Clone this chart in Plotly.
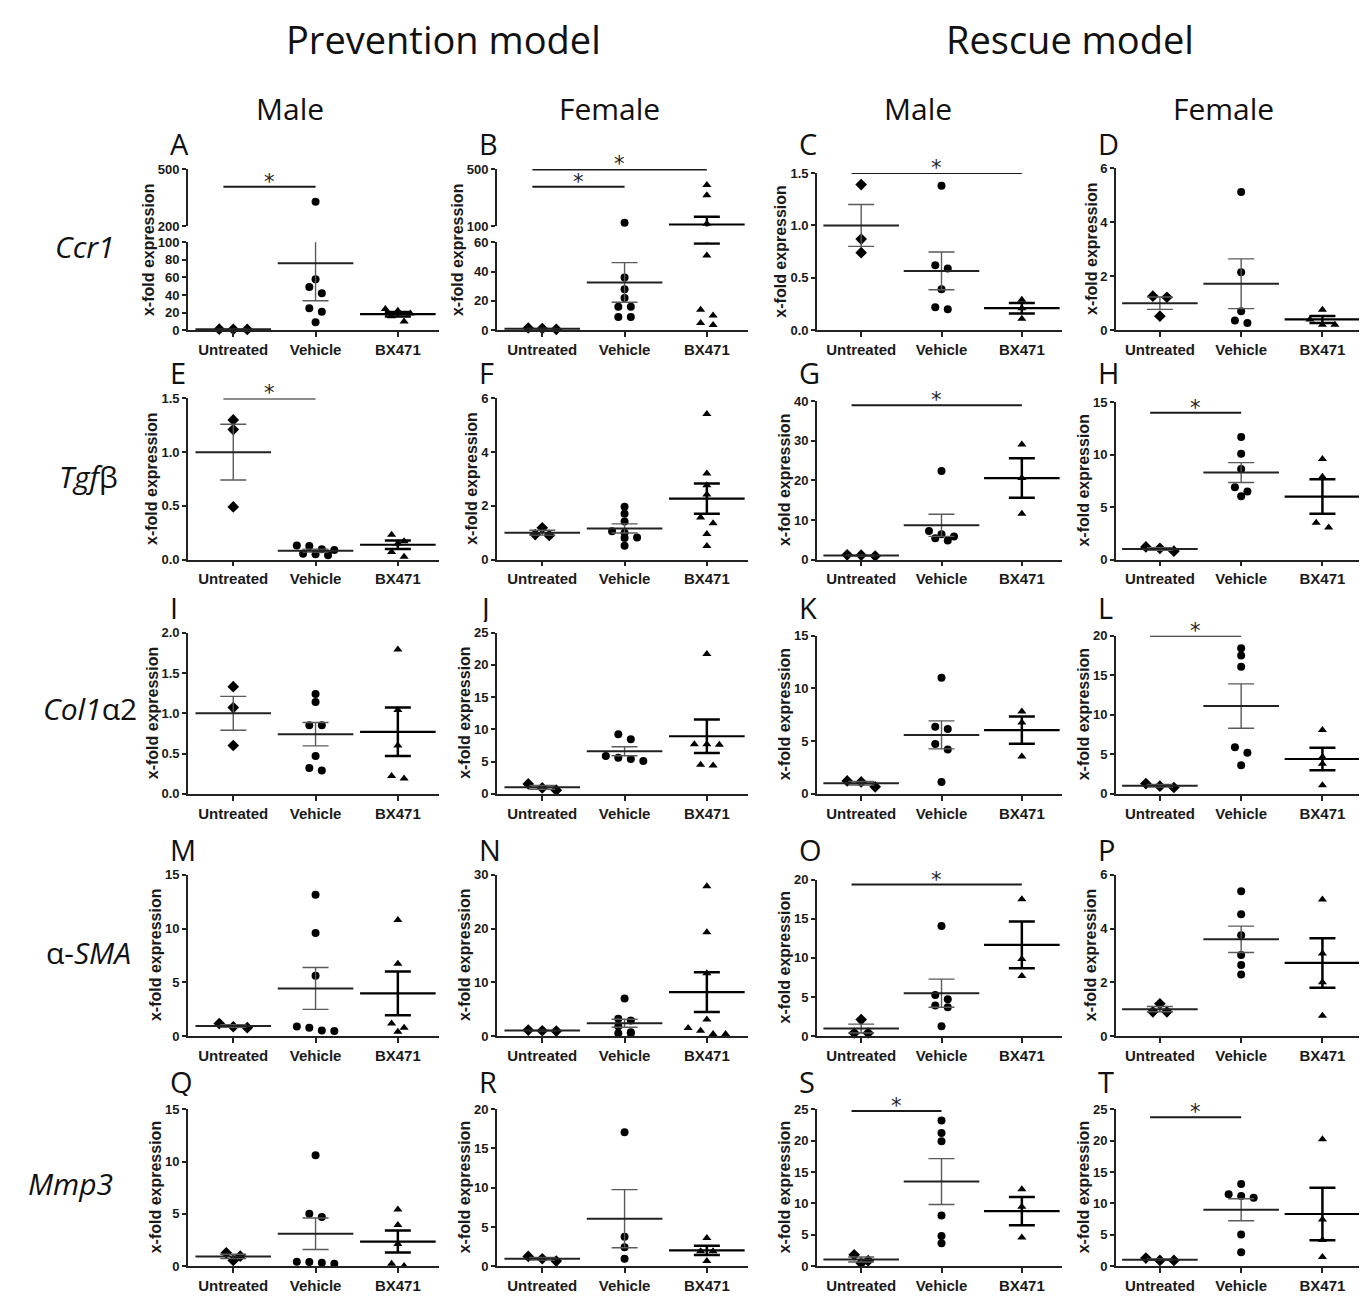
import plotly.graph_objects as go

W, H = 1360, 1300
CATEGORIES = ["Untreated", "Vehicle", "BX471"]
PANEL_KEYS = list("ABCDEFGHIJKLMNOPQRST")

# ---------------- values (x-fold expression) ----------------
# Row 1: Ccr1
A_untreated = [0.9, 1.2, 1.0]
A_vehicle = [329, 58, 49, 42, 25, 21, 9]
A_bx471 = [24, 22, 19, 16, 10]
A_mean = [1.0, 76.0, 18.2]
A_sem = [0.1, 42.5, 2.6]

B_untreated = [0.6, 1.5, 1.1]
B_vehicle = [125, 36, 28, 22, 16, 16, 9, 9]
B_bx471 = [390, 318, 118, 51, 14, 10, 5, 3.5]
B_mean = [1.0, 32.6, 113.7]
B_sem = [0.25, 13.5, 54.5]

C_untreated = [1.39, 0.87, 0.74]
C_vehicle = [1.38, 0.62, 0.59, 0.39, 0.22, 0.2]
C_bx471 = [0.29, 0.21, 0.11]
C_mean = [1.0, 0.566, 0.21]
C_sem = [0.2, 0.18, 0.05]

D_untreated = [1.26, 1.22, 0.52]
D_vehicle = [5.12, 2.15, 0.7, 0.36, 0.27]
D_bx471 = [0.76, 0.4, 0.2, 0.2]
D_mean = [1.0, 1.72, 0.4]
D_sem = [0.23, 0.92, 0.13]

# Row 2: Tgf-beta
E_untreated = [1.3, 1.21, 0.49]
E_vehicle = [0.13, 0.125, 0.095, 0.09, 0.055, 0.05, 0.04]
E_bx471 = [0.23, 0.17, 0.15, 0.07, 0.025]
E_mean = [1.0, 0.083, 0.138]
E_sem = [0.26, 0.014, 0.04]

F_untreated = [1.18, 0.93, 0.9]
F_vehicle = [1.97, 1.71, 1.42, 1.05, 1.0, 0.82, 0.8, 0.51]
F_bx471 = [5.42, 3.2, 2.77, 2.42, 1.57, 1.35, 0.95, 0.5]
F_mean = [1.0, 1.16, 2.27]
F_sem = [0.09, 0.17, 0.56]

G_untreated = [0.9, 1.2, 1.1]
G_vehicle = [22.4, 7.2, 6.4, 5.8, 5.4, 4.8]
G_bx471 = [29.1, 20.6, 11.6]
G_mean = [1.0, 8.67, 20.6]
G_sem = [0.1, 2.8, 5.0]

H_untreated = [0.8, 1.2, 1.07]
H_vehicle = [11.7, 10.1, 8.65, 6.9, 6.5, 6.04]
H_bx471 = [9.6, 7.9, 3.5, 3.05]
H_mean = [1.0, 8.3, 6.01]
H_sem = [0.12, 0.95, 1.65]

# Row 3: Col1a2
I_untreated = [1.33, 1.07, 0.6]
I_vehicle = [1.24, 1.14, 0.85, 0.85, 0.47, 0.32, 0.29]
I_bx471 = [1.79, 1.04, 0.6, 0.22, 0.19]
I_mean = [1.0, 0.74, 0.77]
I_sem = [0.21, 0.145, 0.3]

J_untreated = [0.56, 1.53, 0.92]
J_vehicle = [9.23, 8.47, 5.87, 5.6, 5.4, 5.1]
J_bx471 = [21.7, 7.7, 7.7, 7.6, 4.5, 4.4]
J_mean = [1.0, 6.61, 8.93]
J_sem = [0.28, 0.7, 2.6]

K_untreated = [0.66, 1.22, 1.13]
K_vehicle = [11.0, 6.36, 6.14, 4.73, 4.2, 1.13]
K_bx471 = [7.8, 6.77, 3.54]
K_mean = [1.0, 5.59, 6.04]
K_sem = [0.17, 1.33, 1.3]

L_untreated = [0.8, 1.3, 0.96]
L_vehicle = [18.4, 17.5, 16.07, 5.9, 5.19, 3.6]
L_bx471 = [8.08, 4.64, 3.8, 1.09]
L_mean = [1.02, 11.1, 4.4]
L_sem = [0.15, 2.8, 1.43]

# Row 4: alpha-SMA
M_untreated = [0.77, 1.16, 0.86]
M_vehicle = [13.16, 9.58, 5.6, 0.89, 0.77, 0.52, 0.46]
M_bx471 = [10.8, 6.73, 1.16, 0.77, 0.4]
M_mean = [0.93, 4.43, 3.97]
M_sem = [0.12, 1.95, 2.03]

N_untreated = [0.92, 1.1, 0.98]
N_vehicle = [7.0, 3.2, 2.9, 1.8, 0.7, 0.5, 0.5]
N_bx471 = [27.9, 19.3, 11.7, 3.06, 1.5, 0.98, 0.37, 0.37]
N_mean = [1.0, 2.37, 8.15]
N_sem = [0.05, 0.75, 3.7]

O_untreated = [2.1, 0.38, 0.38]
O_vehicle = [14.1, 5.24, 4.7, 3.9, 3.69, 1.26]
O_bx471 = [17.5, 9.85, 7.67]
O_mean = [0.95, 5.48, 11.67]
O_sem = [0.57, 1.8, 3.0]

P_untreated = [1.2, 0.9, 0.9]
P_vehicle = [5.39, 4.53, 3.75, 3.02, 2.64, 2.29]
P_bx471 = [5.08, 3.07, 2.0, 0.75]
P_mean = [1.0, 3.6, 2.72]
P_sem = [0.1, 0.49, 0.92]

# Row 5: Mmp3
Q_untreated = [0.56, 1.29, 0.97]
Q_vehicle = [10.6, 5.02, 4.7, 0.44, 0.41, 0.35, 0.25]
Q_bx471 = [5.43, 3.95, 2.13, 0.25, 0.03]
Q_mean = [0.94, 3.11, 2.36]
Q_sem = [0.21, 1.5, 1.05]

R_untreated = [0.67, 1.26, 0.96]
R_vehicle = [17.07, 3.77, 2.43, 0.96]
R_bx471 = [3.6, 1.92, 1.92, 0.67]
R_mean = [0.96, 6.06, 2.03]
R_sem = [0.17, 3.7, 0.6]

S_untreated = [1.82, 0.89, 0.52]
S_vehicle = [23.2, 21.2, 19.9, 8.07, 4.8, 3.65]
S_bx471 = [12.24, 9.48, 4.58]
S_mean = [1.08, 13.47, 8.77]
S_sem = [0.39, 3.65, 2.25]

T_untreated = [0.94, 1.3, 0.94]
T_vehicle = [13.1, 11.46, 11.2, 10.9, 5.05, 2.24]
T_bx471 = [20.2, 7.45, 4.17, 1.46]
T_mean = [1.06, 8.99, 8.32]
T_sem = [0.12, 1.75, 4.17]

# y-axis tick values per panel (A and B use a broken axis: lower / upper segment)
A_ticks_low, A_ticks_high = [0, 20, 40, 60, 80, 100], [200, 500]
B_ticks_low, B_ticks_high = [0, 20, 40, 60], [100, 500]
C_ticks = [0.0, 0.5, 1.0, 1.5]
D_ticks = [0, 2, 4, 6]
E_ticks = [0.0, 0.5, 1.0, 1.5]
F_ticks = [0, 2, 4, 6]
G_ticks = [0, 10, 20, 30, 40]
H_ticks = [0, 5, 10, 15]
I_ticks = [0.0, 0.5, 1.0, 1.5, 2.0]
J_ticks = [0, 5, 10, 15, 20, 25]
K_ticks = [0, 5, 10, 15]
L_ticks = [0, 5, 10, 15, 20]
M_ticks = [0, 5, 10, 15]
N_ticks = [0, 10, 20, 30]
O_ticks = [0, 5, 10, 15, 20]
P_ticks = [0, 2, 4, 6]
Q_ticks = [0, 5, 10, 15]
R_ticks = [0, 5, 10, 15, 20]
S_ticks = [0, 5, 10, 15, 20, 25]
T_ticks = [0, 5, 10, 15, 20, 25]

# significance bars: (group a, group b, y level)
A_sig = [(0, 1, 408)]
B_sig = [(0, 1, 377), (0, 2, 498)]
C_sig = [(0, 2, 1.5)]
E_sig = [(0, 1, 1.5)]
G_sig = [(0, 2, 39)]
H_sig = [(0, 1, 14)]
L_sig = [(0, 1, 20)]
O_sig = [(0, 2, 19.4)]
S_sig = [(0, 1, 24.7)]
T_sig = [(0, 1, 23.7)]

COLUMN_TITLES = ["Male", "Female", "Male", "Female"]
MODEL_TITLES = ["Prevention model", "Rescue model"]
ROW_LABELS = ["<i>Ccr1</i>", "<i>Tgf</i>β", "<i>Col1</i>α2", "α-<i>SMA</i>", "<i>Mmp3</i>"]
Y_TITLE = "x-fold expression"

G_ = globals()
PANELS = {}
for k in PANEL_KEYS:
    p = dict(groups=[G_[k + "_untreated"], G_[k + "_vehicle"], G_[k + "_bx471"]],
             mean=G_[k + "_mean"], sem=G_[k + "_sem"], sig=G_.get(k + "_sig", []))
    if k in ("A", "B"):
        p["broken"] = True
        p["ticks_low"] = G_[k + "_ticks_low"]
        p["ticks_high"] = G_[k + "_ticks_high"]
    else:
        p["broken"] = False
        p["ticks"] = G_[k + "_ticks"]
    PANELS[k] = p

# ---------------- geometry (pixels) ----------------
AXIS_LEFT = [188, 497, 817, 1116]
AXIS_RIGHT = [439, 748, 1062, 1359]
X_RANGE = [(-0.55, 2.5), (-0.55, 2.5), (-0.55, 2.5), (-0.54, 2.45)]
ROW_BOTTOM = [327, 559, 796, 1041, 1274]
PANEL_TOP = dict(A=164, B=164, C=168, D=163, E=396, F=396, G=399, H=400,
                 I=633, J=633, K=636, L=636, M=878, N=878, O=883, P=878,
                 Q=1115, R=1115, S=1115, T=1115)
BREAK_PX = (222, 238)  # bottom of upper segment, top of lower segment
LETTER_Y = [138, 369, 607, 852, 1087]
COL_TITLE_X = [290, 609, 918, 1223]
MODEL_TITLE_X = [443, 1070]
ROW_LABEL_POS = [(85, 242), (88, 475), (90, 710), (88, 957), (70, 1190)]

SYMBOLS = ["diamond", "circle", "triangle-up"]
SIZES = [9, 8, 8]
STEP_PX = [14, 12.5, 12.5]

TICK_FONT = dict(family="Liberation Sans, Arial", size=13, color="#1a1a1a", weight="bold")
XTICK_FONT = dict(family="Liberation Sans, Arial", size=15, color="#1a1a1a", weight="bold")
TITLE_FAMILY = "Open Sans, Noto Sans, sans-serif"
AXC = "#222222"


def fx(px):
    return px / W


def fy(py):
    return 1 - py / H


def fmt_tick(v, ticks):
    if isinstance(ticks[0], float):
        return f"{v:.1f}"
    return str(int(v))


def label_width(s):
    return sum(7.2 if ch.isdigit() else 3.6 for ch in s)


def swarm_offsets(values, height_px, step_px, px_per_x, thresh=6.6):
    order = sorted(range(len(values)), key=lambda i: -values[i])
    rows, cur = [], []
    for i in order:
        if cur and height_px(values[cur[0]]) - height_px(values[i]) <= thresh:
            cur.append(i)
        else:
            if cur:
                rows.append(cur)
            cur = [i]
    if cur:
        rows.append(cur)
    offs = [0.0] * len(values)
    for row in rows:
        n = len(row)
        for j, i in enumerate(row):
            offs[i] = (j - (n - 1) / 2) * step_px / px_per_x
    return offs


fig = go.Figure()
layout = dict(width=W, height=H, margin=dict(l=0, r=0, t=0, b=0),
              paper_bgcolor="white", plot_bgcolor="white", showlegend=False,
              hovermode=False)
annotations = []
shapes = []

axis_n = 0


def ax_names(n):
    return ("xaxis" if n == 1 else f"xaxis{n}", "yaxis" if n == 1 else f"yaxis{n}",
            "x" if n == 1 else f"x{n}", "y" if n == 1 else f"y{n}")


extra_y = 40

for idx, key in enumerate(PANEL_KEYS):
    r, c = divmod(idx, 4)
    p = PANELS[key]
    axis_n += 1
    xname, yname, xref, yref = ax_names(axis_n)
    L, R = AXIS_LEFT[c], AXIS_RIGHT[c]
    xr = X_RANGE[c]
    bottom = ROW_BOTTOM[r]
    top = PANEL_TOP[key]
    px_per_x = (R - L) / (xr[1] - xr[0])

    layout[xname] = dict(domain=[fx(L), fx(R)], range=list(xr), anchor=yref,
                         tickvals=[0, 1, 2], ticktext=CATEGORIES, showline=True,
                         linecolor=AXC, linewidth=1.8, ticks="outside", ticklen=5,
                         tickwidth=1.5, tickcolor=AXC, tickfont=XTICK_FONT,
                         showgrid=False, zeroline=False, fixedrange=True)

    if p["broken"]:
        lo_max = p["ticks_low"][-1]
        hi_lo, hi_hi = p["ticks_high"][0], p["ticks_high"][-1]
        layout[yname] = dict(domain=[fy(bottom), fy(BREAK_PX[1])], range=[0, lo_max],
                             anchor=xref, tickvals=p["ticks_low"],
                             ticktext=[f"<b>{v}</b>" for v in p["ticks_low"]])
        extra_y += 1
        yname_hi = f"yaxis{extra_y}"
        yref_hi = f"y{extra_y}"
        layout[yname_hi] = dict(domain=[fy(BREAK_PX[0]), fy(top)], range=[hi_lo, hi_hi],
                                anchor=xref, tickvals=p["ticks_high"],
                                ticktext=[f"<b>{v}</b>" for v in p["ticks_high"]])
        y_axes = [yname, yname_hi]
        low_h = bottom - BREAK_PX[1]
        up_h = BREAK_PX[0] - top

        def hpx(v, lo_max=lo_max, hi_lo=hi_lo, hi_hi=hi_hi, low_h=low_h, up_h=up_h, bottom=bottom):
            if v <= lo_max:
                return v / lo_max * low_h
            return (bottom - BREAK_PX[0]) + (v - hi_lo) / (hi_hi - hi_lo) * up_h
        all_ticks = [str(v) for v in p["ticks_low"] + p["ticks_high"]]
    else:
        ticks = p["ticks"]
        ymax = ticks[-1]
        layout[yname] = dict(domain=[fy(bottom), fy(top)], range=[0, ymax], anchor=xref,
                             tickvals=ticks,
                             ticktext=[f"<b>{fmt_tick(v, ticks)}</b>" for v in ticks])
        y_axes = [yname]

        def hpx(v, ymax=ymax, hh=bottom - top):
            return v / ymax * hh
        all_ticks = [fmt_tick(v, ticks) for v in ticks]

    for yn in y_axes:
        layout[yn].update(showline=True, linecolor=AXC, linewidth=1.8, ticks="outside",
                          ticklen=4, tickwidth=1.5, tickcolor=AXC, tickfont=TICK_FONT,
                          showgrid=False, zeroline=False, fixedrange=True)

    # ---- points ----
    for g, vals in enumerate(p["groups"]):
        offs = swarm_offsets(vals, hpx, STEP_PX[g], px_per_x)
        xs = [g + o for o in offs]
        if p["broken"]:
            parts = [([x for x, v in zip(xs, vals) if v <= lo_max], [v for v in vals if v <= lo_max], yref),
                     ([x for x, v in zip(xs, vals) if v > lo_max], [v for v in vals if v > lo_max], yref_hi)]
        else:
            parts = [(xs, vals, yref)]
        for px_, py_, yr in parts:
            if not py_:
                continue
            fig.add_trace(go.Scatter(x=px_, y=py_, xaxis=xref, yaxis=yr, mode="markers",
                                     cliponaxis=False,
                                     marker=dict(symbol=SYMBOLS[g], size=SIZES[g], color="black",
                                                 line=dict(width=0))))

    # ---- mean +/- SEM ----
    yrefs = [yref, yref_hi] if p["broken"] else [yref]
    for g in range(3):
        bar_col = "black" if g == 2 else "#5a5a5a"
        bar_w = 2.5 if g == 2 else 1.4
        mean_col = "black" if g == 2 else "#222222"
        for yr in yrefs:
            fig.add_trace(go.Scatter(
                x=[g], y=[p["mean"][g]], xaxis=xref, yaxis=yr, mode="markers",
                cliponaxis=True,
                marker=dict(symbol="line-ew", size=54, color=mean_col,
                            line=dict(color=mean_col, width=2.2 if g == 2 else 2)),
                error_y=dict(type="data", array=[p["sem"][g]], visible=True,
                             color=bar_col, thickness=bar_w, width=13)))

    # ---- significance bars ----
    for (a, b, yv) in p["sig"]:
        yr = yref_hi if p["broken"] else yref
        x0, x1 = a - 0.12, b + 0.0
        shapes.append(dict(type="line", xref=xref, yref=yr, x0=x0, x1=x1, y0=yv, y1=yv,
                           line=dict(color="#1a1a1a", width=2)))
        annotations.append(dict(xref=xref, yref=yr, x=(x0 + x1) / 2, y=yv, text="*",
                                showarrow=False, yanchor="bottom", yshift=-9,
                                font=dict(family="DejaVu Sans", size=21, color="#222")))

    # ---- panel letter ----
    annotations.append(dict(xref="paper", yref="paper", x=fx(L - 20), y=fy(LETTER_Y[r]),
                            xanchor="left", yanchor="middle", text=key, showarrow=False,
                            height=30, valign="middle",
                            font=dict(family=TITLE_FAMILY, size=29, color="#111")))

    # ---- y title ----
    wlab = max(label_width(s) for s in all_ticks)
    annotations.append(dict(xref="paper", yref="paper", x=fx(L - wlab - 18),
                            y=fy((top + bottom) / 2), xanchor="center", yanchor="middle",
                            text=f"<b>{Y_TITLE}</b>", textangle=-90, showarrow=False,
                            font=dict(family="Liberation Sans, Arial", size=16,
                                      color="#1a1a1a", weight="bold")))

# ---- titles ----
for t, xpx in zip(MODEL_TITLES, MODEL_TITLE_X):
    annotations.append(dict(xref="paper", yref="paper", x=fx(xpx), y=fy(32), text=t,
                            showarrow=False, xanchor="center", yanchor="middle",
                            font=dict(family=TITLE_FAMILY, size=38, color="#111")))
for t, xpx in zip(COLUMN_TITLES, COL_TITLE_X):
    annotations.append(dict(xref="paper", yref="paper", x=fx(xpx), y=fy(103), text=t,
                            showarrow=False, xanchor="center", yanchor="middle",
                            font=dict(family=TITLE_FAMILY, size=30, color="#111")))
for t, (xpx, ypx) in zip(ROW_LABELS, ROW_LABEL_POS):
    annotations.append(dict(xref="paper", yref="paper", x=fx(xpx), y=fy(ypx), text=t,
                            showarrow=False, xanchor="center", yanchor="middle",
                            font=dict(family=TITLE_FAMILY, size=30, color="#111")))

layout["annotations"] = annotations
layout["shapes"] = shapes
fig.update_layout(**layout)

fig.write_html("out.html", config={"displayModeBar": False},
               post_script="document.body.style.margin='0';")
